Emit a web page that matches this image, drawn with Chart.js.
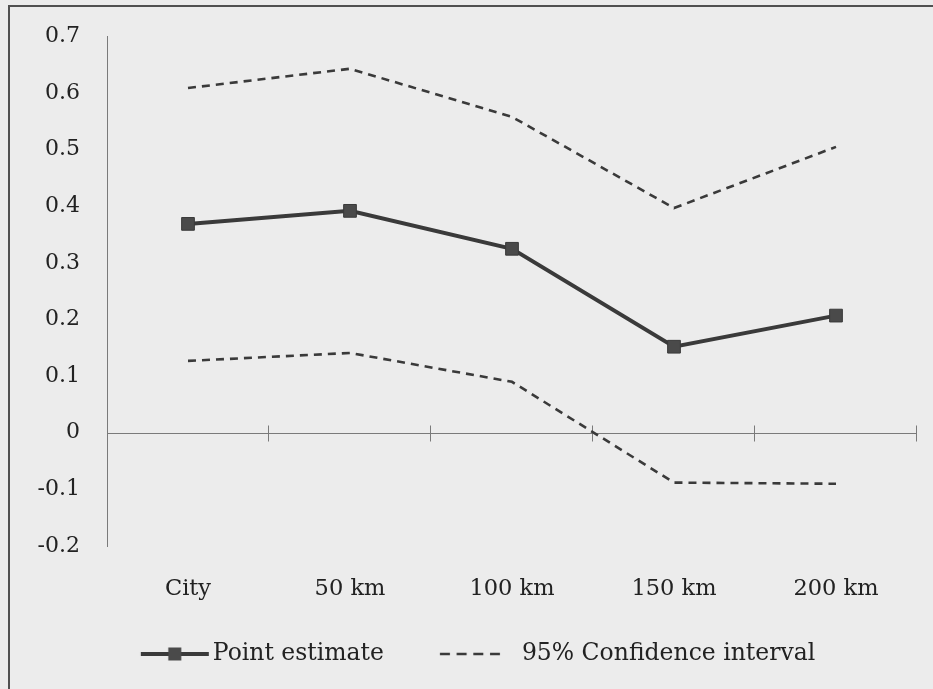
<!DOCTYPE html>
<html><head><meta charset="utf-8">
<script src="https://cdn.jsdelivr.net/npm/chart.js@4/dist/chart.umd.min.js"></script>
<style>
html,body{margin:0;padding:0;background:#ececec;}
#wrap{position:absolute;left:0;top:0;width:933px;height:689px;overflow:hidden;}
#frame{position:absolute;left:8px;top:5px;width:960px;height:720px;border:2px solid #505050;box-sizing:border-box;}
canvas{position:absolute;left:0;top:0;}
</style></head><body>
<div id="wrap"><div id="frame"></div><canvas id="c" width="933" height="689"></canvas></div>
<script>
const categories = ['City', '50 km', '100 km', '150 km', '200 km'];
const pointEstimate = [0.369, 0.392, 0.325, 0.152, 0.207];
const upperCI = [0.609, 0.643, 0.558, 0.397, 0.505];
const lowerCI = [0.127, 0.141, 0.090, -0.088, -0.090];
const seriesNames = ['Point estimate', '95% Confidence interval'];

const FONT = 'DejaVu Serif';
const INK = '#3a3a3a';
const LEG_FS = 23.5;
const LEG_PAD = 34;
const BOX_W = 92.25;

function legendImage(kind) {
  const c = document.createElement('canvas');
  c.width = 112; c.height = 16;
  const mid = 56, end = mid + BOX_W / 2;
  const g = c.getContext('2d');
  g.strokeStyle = INK;
  if (kind === 'solid') {
    const x2 = end + LEG_FS / 2 - 4, x1 = x2 - 68;
    g.lineWidth = 4;
    g.beginPath(); g.moveTo(x1, 8); g.lineTo(x2, 8); g.stroke();
    g.fillStyle = '#4a4a4a';
    g.fillRect((x1 + x2) / 2 - 6.5, 1.5, 13, 13);
  } else {
    const x2 = end + LEG_FS / 2 - 22, x1 = x2 - 60;
    g.lineWidth = 2.5;
    g.setLineDash([10, 6.7]);
    g.beginPath(); g.moveTo(x1, 8); g.lineTo(x2, 8); g.stroke();
  }
  return c;
}
const legendImgs = [legendImage('solid'), legendImage('dash')];

const zeroAxis = {
  id: 'zeroAxis',
  beforeDatasetsDraw(chart) {
    const {ctx, chartArea, scales: {x, y}} = chart;
    const y0 = Math.round(y.getPixelForValue(0)) + 0.5;
    ctx.save();
    ctx.strokeStyle = '#7a7a7a';
    ctx.lineWidth = 1;
    ctx.beginPath();
    ctx.moveTo(chartArea.left, y0);
    ctx.lineTo(chartArea.right, y0);
    for (let i = 0; i < categories.length; i++) {
      const px = Math.round(x.getPixelForValue(i + 0.5)) - 0.5;
      ctx.moveTo(px, y0 - 8);
      ctx.lineTo(px, y0 + 8);
    }
    ctx.stroke();
    ctx.restore();
  }
};

new Chart(document.getElementById('c'), {
  type: 'line',
  data: {
    labels: categories,
    datasets: [
      {
        label: seriesNames[0], data: pointEstimate,
        borderColor: INK, borderWidth: 4,
        pointStyle: 'rect', pointRadius: 9, pointHoverRadius: 9,
        pointBackgroundColor: '#4a4a4a', pointBorderColor: INK, pointBorderWidth: 1,
        tension: 0, order: 0
      },
      {
        label: seriesNames[1], data: upperCI,
        borderColor: INK, borderWidth: 2.6, borderDash: [8, 6],
        pointRadius: 0, tension: 0, order: 1
      },
      {
        label: seriesNames[1] + ' (lower)', data: lowerCI,
        borderColor: INK, borderWidth: 2.6, borderDash: [8, 6],
        pointRadius: 0, tension: 0, order: 1
      }
    ]
  },
  options: {
    responsive: false,
    animation: false,
    layout: { padding: { left: 7, right: 16, top: 36.5, bottom: 13.25 } },
    scales: {
      x: {
        type: 'category', offset: true,
        grid: { display: false, drawTicks: false },
        border: { display: false },
        ticks: { color: '#222', font: { family: FONT, size: 22.5 }, padding: 30, maxRotation: 0 },
        afterFit(s) { s.height = 62.25; }
      },
      y: {
        min: -0.2, max: 0.7,
        grid: { display: false, drawTicks: false },
        border: { display: true, color: '#7a7a7a', width: 1 },
        ticks: {
          stepSize: 0.1, color: '#222', padding: 27,
          font: { family: FONT, size: 22 },
          callback: v => String(Number(v.toFixed(1)))
        },
        afterFit(s) { s.width = 100; s.paddingTop = 0; s.paddingBottom = 0; }
      }
    },
    plugins: {
      tooltip: { enabled: false },
      legend: {
        position: 'bottom',
        labels: {
          color: '#222', font: { family: FONT, size: LEG_FS }, padding: LEG_PAD,
          usePointStyle: true, pointStyleWidth: BOX_W,
          filter: item => item.datasetIndex < 2,
          generateLabels(chart) {
            const items = Chart.defaults.plugins.legend.labels.generateLabels(chart);
            items.forEach(it => { if (it.datasetIndex < 2) it.pointStyle = legendImgs[it.datasetIndex]; });
            return items;
          }
        }
      }
    }
  },
  plugins: [zeroAxis]
});
</script>
</body></html>
